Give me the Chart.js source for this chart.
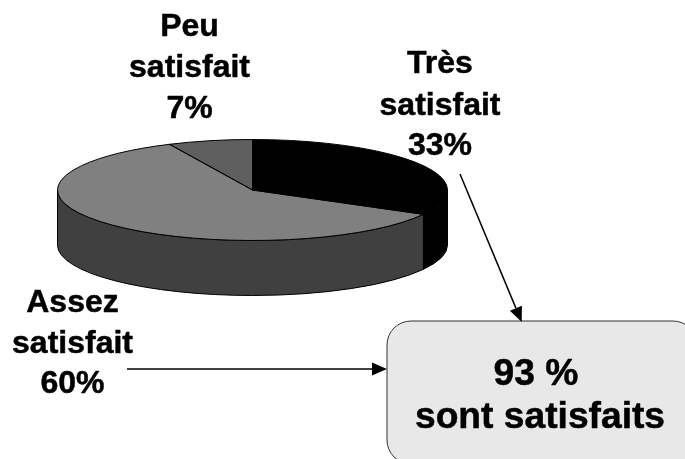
<!DOCTYPE html>
<html>
<head>
<meta charset="utf-8">
<style>html,body{margin:0;padding:0;background:#fff;overflow:hidden}canvas{display:block}</style>
<script src="https://cdn.jsdelivr.net/npm/chart.js@4"></script>
</head>
<body>
<canvas id="c" width="685" height="459"></canvas>
<script>
const categories = ["Très satisfait", "Assez satisfait", "Peu satisfait"];
const values = [33, 60, 7];
const topColors = ["#000000", "#808080", "#5f5f5f"];
const sideColors = ["#000000", "#404040", "#303030"];
const calloutLines = ["93 %", "sont satisfaits"];

const FONT = '"Liberation Sans", Arial, sans-serif';
const CX = 252.5, CY = 190, RX = 195, RY = 50.5, DEPTH = 55;
const labelPos = [
  {x: 440, y: [73, 115, 155]},
  {x: 72.5, y: [312, 353, 393]},
  {x: 189.5, y: [36, 77, 118]}
];

function arrow(ctx, x0, y0, x1, y1) {
  const a = Math.atan2(y1 - y0, x1 - x0), L = 15, W = 6.5;
  const bx = x1 - L * Math.cos(a), by = y1 - L * Math.sin(a);
  ctx.strokeStyle = "#000"; ctx.fillStyle = "#000"; ctx.lineWidth = 1.5;
  ctx.beginPath(); ctx.moveTo(x0, y0); ctx.lineTo(bx, by); ctx.stroke();
  ctx.beginPath(); ctx.moveTo(x1, y1);
  ctx.lineTo(bx - W * Math.sin(a), by + W * Math.cos(a));
  ctx.lineTo(bx + W * Math.sin(a), by - W * Math.cos(a));
  ctx.closePath(); ctx.fill();
}

function boldText(ctx, t, x, y) {
  ctx.fillText(t, x, y);
  ctx.strokeText(t, x, y);
}

const pie3d = {
  id: "pie3d",
  beforeDatasetsDraw(chart) {
    const ctx = chart.ctx, arcs = chart.getDatasetMeta(0).data;
    arcs.forEach((arc, i) => {
      const a = Math.max(arc.startAngle, 0), b = Math.min(arc.endAngle, Math.PI);
      if (b <= a) return;
      ctx.beginPath();
      ctx.ellipse(CX, CY, RX, RY, 0, a, b);
      ctx.ellipse(CX, CY + DEPTH, RX, RY, 0, b, a, true);
      ctx.closePath();
      ctx.fillStyle = sideColors[i]; ctx.fill();
      ctx.strokeStyle = "#000"; ctx.lineWidth = 1; ctx.stroke();
    });
    const p = arcs[0];
    ctx.save();
    ctx.translate(CX, CY);
    ctx.scale(1, RY / RX);
    ctx.translate(-p.x, -p.y);
  },
  afterDatasetsDraw(chart) {
    const ctx = chart.ctx, arcs = chart.getDatasetMeta(0).data;
    ctx.restore();
    ctx.strokeStyle = "#000"; ctx.lineWidth = 1;
    arcs.forEach(arc => {
      ctx.beginPath();
      ctx.moveTo(CX, CY);
      ctx.ellipse(CX, CY, RX, RY, 0, arc.startAngle, arc.endAngle);
      ctx.closePath(); ctx.stroke();
    });
    ctx.beginPath();
    ctx.roundRect(387, 321, 310, 143, 24);
    ctx.fillStyle = "#e8e8e8"; ctx.fill();
    ctx.strokeStyle = "#333"; ctx.lineWidth = 1; ctx.stroke();
    arrow(ctx, 460, 174, 521.7, 322);
    arrow(ctx, 127, 369, 387, 369);
    ctx.fillStyle = "#000"; ctx.strokeStyle = "#000"; ctx.lineWidth = 0.5;
    ctx.lineJoin = "round";
    ctx.textAlign = "center"; ctx.textBaseline = "alphabetic";
    ctx.font = "bold 32px " + FONT;
    categories.forEach((c, i) => {
      const parts = c.split(" ").concat(values[i] + "%");
      parts.forEach((t, k) => boldText(ctx, t, labelPos[i].x, labelPos[i].y[k]));
    });
    ctx.font = "bold 37.2px " + FONT;
    boldText(ctx, calloutLines[0], 536, 385);
    boldText(ctx, calloutLines[1], 540, 428);
  }
};

new Chart(document.getElementById("c"), {
  type: "pie",
  data: {
    labels: categories,
    datasets: [{ data: values, backgroundColor: topColors, borderWidth: 0, radius: RX }]
  },
  options: {
    responsive: false,
    animation: false,
    events: [],
    layout: { padding: 0 },
    plugins: { legend: { display: false }, tooltip: { enabled: false } }
  },
  plugins: [pie3d]
});
</script>
</body>
</html>
